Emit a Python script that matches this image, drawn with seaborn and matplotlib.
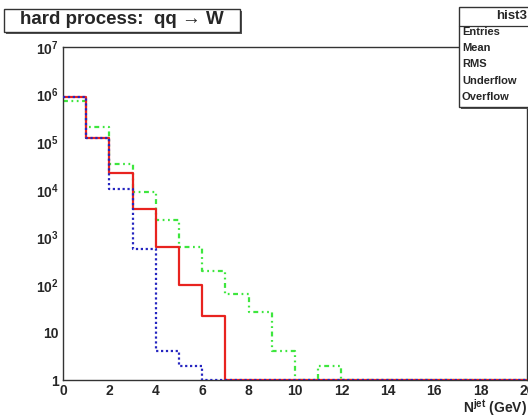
import numpy as np
import pandas as pd
import matplotlib
matplotlib.use("Agg")
import matplotlib.pyplot as plt
from matplotlib.patches import Rectangle
from matplotlib.ticker import FixedLocator, FixedFormatter, LogLocator, NullFormatter, MultipleLocator
import seaborn as sns

# Jet multiplicity histograms, bins of width 1 from 0 to 20
bin_edges = list(range(0, 21))
counts_red = [8.8e5, 1.25e5, 2.3e4, 3.9e3, 620, 100, 22, 0, 0, 0,
              0, 0, 0, 0, 0, 0, 0, 0, 0, 0]
counts_blue = [8.8e5, 1.25e5, 1.05e4, 560, 4, 2, 0, 0, 0, 0,
               0, 0, 0, 0, 0, 0, 0, 0, 0, 0]
counts_green = [7.5e5, 2.1e5, 3.5e4, 8.8e3, 2.3e3, 620, 200, 64, 27, 4,
                0, 2, 0, 0, 0, 0, 0, 0, 0, 0]

y_tick_values = [1, 10, 1e2, 1e3, 1e4, 1e5, 1e6, 1e7]
y_tick_labels = ["1", "10", r"$10^{2}$", r"$10^{3}$", r"$10^{4}$", r"$10^{5}$", r"$10^{6}$", r"$10^{7}$"]
x_tick_values = list(range(0, 21, 2))
stat_rows = ["Entries", "Mean", "RMS", "Underflow", "Overflow"]

sns.set_style("white")
plt.rcParams["font.family"] = ["Liberation Sans", "DejaVu Sans"]
plt.rcParams["font.weight"] = "bold"
plt.rcParams["mathtext.fontset"] = "custom"
plt.rcParams["mathtext.rm"] = "Liberation Sans:bold"
plt.rcParams["mathtext.it"] = "Liberation Sans:bold"
plt.rcParams["mathtext.bf"] = "Liberation Sans:bold"

W, H = 528, 417
fig = plt.figure(figsize=(W / 100, H / 100), dpi=100)
fig.patch.set_facecolor("white")
ax = fig.add_axes([63 / W, (H - 380) / H, 464 / W, 333 / H])

floor = 1.0


def step_frame(counts):
    vals = np.maximum(np.asarray(counts, dtype=float), floor)
    return pd.DataFrame({"edge": bin_edges, "count": list(vals) + [vals[-1]]})


series = [
    (counts_red, "#e8231f", "-", 3),
    (counts_green, "#3ee63e", (0, (2.2, 1.6, 0.8, 1.6, 0.8, 1.6)), 2),
    (counts_blue, "#2525c0", (0, (1.0, 1.2)), 4),
]
for counts, color, ls, z in series:
    sns.lineplot(data=step_frame(counts), x="edge", y="count", ax=ax,
                 drawstyle="steps-post", color=color, linestyle=ls,
                 linewidth=1.6, zorder=z, legend=False, estimator=None, sort=False)

ax.set_yscale("log")
ax.set_xlim(0, 20)
ax.set_ylim(1, 1e7)

ax.yaxis.set_major_locator(FixedLocator(y_tick_values))
ax.yaxis.set_major_formatter(FixedFormatter(y_tick_labels))
ax.yaxis.set_minor_locator(LogLocator(base=10, subs=np.arange(2, 10)))
ax.yaxis.set_minor_formatter(NullFormatter())
ax.xaxis.set_major_locator(FixedLocator(x_tick_values))
ax.xaxis.set_minor_locator(MultipleLocator(0.5))

ax.tick_params(axis="both", which="major", direction="in", length=9, width=1.0,
               color="#444444", labelsize=10, pad=3)
ax.tick_params(axis="both", which="minor", direction="in", length=5, width=0.9,
               color="#444444")
ax.tick_params(top=False, right=False, which="both")
for lab in ax.get_xticklabels() + ax.get_yticklabels():
    lab.set_fontweight("bold")

for side in ["left", "bottom", "top", "right"]:
    ax.spines[side].set_visible(True)
    ax.spines[side].set_color("#333333")
    ax.spines[side].set_linewidth(1.0)

ax.set_xlabel("")
ax.set_ylabel("")

fig.text(527 / W, (H - 408) / H, r"N$^{jet}$ (GeV)", ha="right", va="center",
         fontsize=10, fontweight="bold")

# title box with shadow
fig.patches.append(Rectangle((6, H - 34), 236, 23, transform=None,
                             facecolor="#555555", edgecolor="none", zorder=1))
fig.patches.append(Rectangle((4, H - 32), 236, 23, transform=None,
                             facecolor="white", edgecolor="#333333", linewidth=1.0, zorder=2))
fig.text(122 / W, (H - 20) / H, "hard process:  qq \u2192 W", ha="center", va="center",
         fontsize=13.5, fontweight="bold", zorder=3)

# statistics box
fig.patches.append(Rectangle((461, H - 109), 80, 100, transform=None,
                             facecolor="#555555", edgecolor="none", zorder=1))
fig.patches.append(Rectangle((459, H - 107), 80, 100, transform=None,
                             facecolor="white", edgecolor="#333333", linewidth=1.0, zorder=2))
fig.lines.append(plt.Line2D([459, 540], [H - 26, H - 26], transform=None,
                            color="#333333", linewidth=0.9, zorder=3))
fig.text(527 / W, (H - 16) / H, "hist3", ha="right", va="center",
         fontsize=9.5, fontweight="bold", zorder=3)
row_y = [32, 48, 64, 81, 97]
for name, yy in zip(stat_rows, row_y):
    fig.text(462 / W, (H - yy) / H, name, ha="left", va="center",
             fontsize=8, fontweight="bold", zorder=3)

fig.savefig("out.png", dpi=100, facecolor="white")
